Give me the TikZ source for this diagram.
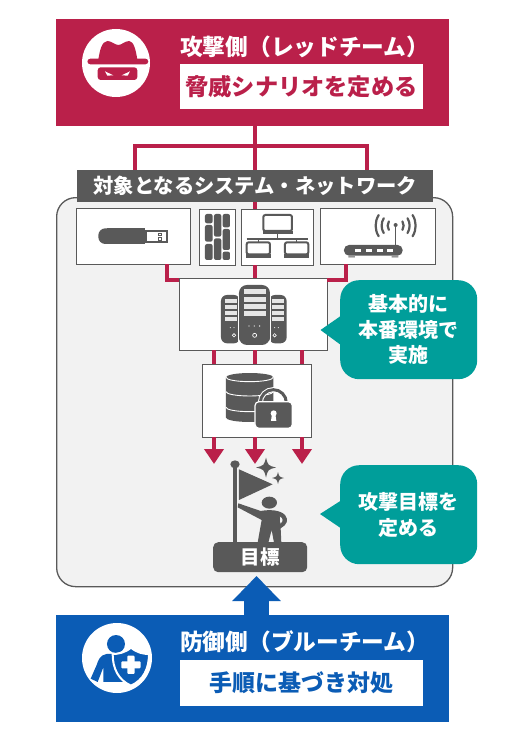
\documentclass[tikz,border=0pt]{standalone}
\usepackage{fontspec}
\setmainfont{Noto Sans CJK JP}
\usetikzlibrary{arrows.meta}
\definecolor{redc}{HTML}{BA204A}
\definecolor{bluec}{HTML}{0B5CB5}
\definecolor{grayc}{HTML}{595959}
\definecolor{tealc}{HTML}{009E9A}
\definecolor{panelc}{HTML}{F2F2F2}
\newcommand{\fs}[1]{\fontsize{#1}{#1}\selectfont\bfseries}
\newcommand{\sparklemark}[3]{\fill[grayc] (#1-#3,#2) .. controls (#1-#3*.2,#2-#3*.2) .. (#1,#2-#3) .. controls (#1+#3*.2,#2-#3*.2) .. (#1+#3,#2) .. controls (#1+#3*.2,#2+#3*.2) .. (#1,#2+#3) .. controls (#1-#3*.2,#2+#3*.2) .. cycle;}
\tikzset{
  box/.style={draw=grayc,line width=.8pt,fill=white,anchor=north west,inner sep=0pt,outer sep=0pt},
  teambox/.style={anchor=north west,inner sep=0pt,outer sep=0pt,minimum width=393pt,minimum height=107pt},
  whitebox/.style={fill=white,anchor=north west,inner sep=0pt,outer sep=0pt,minimum width=243pt,minimum height=45pt},
  conn/.style={draw=redc,line width=4pt},
  arrowconn/.style={draw=redc,line width=4pt,-{Triangle[width=19pt,length=15pt]}},
  callout/.style={fill=tealc,rounded corners=19pt,anchor=north west,inner sep=0pt,minimum width=137pt,minimum height=99pt,text=white,align=center,font=\fontsize{20}{25.5}\selectfont\bfseries},
}
\begin{document}
\begin{tikzpicture}[x=1pt,y=-1pt]
\useasboundingbox (0,0) rectangle (512,730);
\fill[white] (0,0) rectangle (512,730);

% panel
\node[anchor=north west,draw=grayc,line width=1.3pt,fill=panelc,rounded corners=19pt,minimum width=396pt,minimum height=389pt,inner sep=0pt] (panel) at (56,197) {};

\node[teambox,fill=redc] (red) at (56,19) {};
\node[teambox,fill=bluec] (blue) at (56,615) {};
\node[anchor=north west,fill=grayc,minimum width=356pt,minimum height=32pt,inner sep=0pt,text=white] (sys) at (77,170) {\fs{20.3}対象となるシステム・ネットワーク};

\node[box,minimum width=114.5pt,minimum height=56pt] (usb) at (76,208) {};
\node[box,minimum width=36pt,minimum height=56pt] (pan) at (199,209) {};
\node[box,minimum width=72pt,minimum height=56pt] (net) at (241,209) {};
\node[box,minimum width=115pt,minimum height=56pt] (rou) at (320,208) {};
\node[box,minimum width=148pt,minimum height=72pt] (srv) at (179,278) {};
\node[box,minimum width=109pt,minimum height=73pt] (db) at (202,364) {};

% connectors
\coordinate (bar) at (255,146);
\draw[conn] (red.south -| bar) -- (sys.north -| bar);
\draw[conn,line join=miter] (135,170) |- (bar) -| (367,170);
\draw[conn] (sys.south -| bar) -- (net.north -| bar);
\draw[conn] (usb.south -| 167,0) |- (srv.west |- 0,280);
\draw[conn] (rou.south -| 346,0) |- (srv.east |- 0,280);
\draw[conn] (net.south -| bar) -- (srv.north -| bar);
\draw[conn] (srv.south -| 214,0) -- (db.north -| 214,0);
\draw[conn] (srv.south -| 255,0) -- (db.north -| 255,0);
\draw[conn] (srv.south -| 302,0) -- (db.north -| 302,0);
\coordinate (t1) at (214,464);
\coordinate (t2) at (255,464);
\coordinate (t3) at (302,464);
\draw[arrowconn] (db.south -| t1) -- (t1);
\draw[arrowconn] (db.south -| t2) -- (t2);
\draw[arrowconn] (db.south -| t3) -- (t3);
\coordinate (bt) at (256.5,576);
\draw[draw=bluec,line width=25pt,-{Triangle[width=47pt,length=25pt]}] (blue.north -| bt) -- (bt);

% team labels
\node[text=white,anchor=west,inner sep=0pt] (redt) at (180,47) {\fs{22.7}攻撃側（レッドチーム）};
\node[whitebox] (redw) at (180,64) {};
\node[text=redc] (redwt) at (redw.center) {\fs{23.2}脅威シナリオを定める};
\node[text=white,anchor=west,inner sep=0pt] (bluet) at (180,642) {\fs{22.7}防御側（ブルーチーム）};
\node[whitebox,minimum height=46pt] (bluew) at (180,660) {};
\node[text=bluec] (bluewt) at (bluew.center) {\fs{23}手順に基づき対処};

% callouts
\fill[tealc] (320.5,330) -- (345,313) -- (345,348) -- cycle;
\node[callout] (c1) at (340,280) {基本的に\\本番環境で\\実施};
\fill[tealc] (320,514) -- (345,498) -- (345,531) -- cycle;
\node[callout] (c2) at (340,465) {攻撃目標を\\定める};

% target pill
\node[anchor=north west,fill=grayc,rounded corners=5pt,minimum width=94pt,minimum height=30pt,inner sep=0pt,text=white] (goal) at (213,542) {\fs{19.5}目標};

% hat icon
\node[circle,fill=white,minimum size=68pt,inner sep=0pt] (hat) at (116,63) {};
\begin{scope}[shift={(50,10)},x=.3333pt,y=-.3333pt]
\fill[redc,rounded corners=3pt] (112,146) rectangle (295,163);
\fill[redc] (145,148) .. controls (150,120) and (155,95) .. (172,93) .. controls (185,93) and (195,105) .. (205,105) .. controls (215,105) and (225,93) .. (238,93) .. controls (252,95) and (257,120) .. (262,148) -- cycle;
\fill[redc,rounded corners=3pt] (143,172) rectangle (262,210);
\fill[white] (165,184) -- (190,196) -- (172,197) -- cycle;
\fill[white] (240,184) -- (215,196) -- (233,197) -- cycle;
\end{scope}

% defender icon
\node[circle,fill=white,minimum size=70pt,inner sep=0pt] (def) at (117,658) {};
\begin{scope}[shift={(50,570)},x=.3333pt,y=-.3333pt]
\fill[bluec] (198,222) circle (27);
\fill[bluec] (170,252) .. controls (150,255) and (145,270) .. (140,285) -- (122,326) -- (143,336) -- (160,292) -- (160,336) -- (228,336) -- (200,300) -- (190,252) -- cycle;
\draw[white,line width=2pt,fill=bluec] (243,233) .. controls (225,248) and (205,252) .. (188,252) .. controls (188,295) and (205,330) .. (243,347) .. controls (281,330) and (297,295) .. (297,252) .. controls (280,252) and (261,248) .. (243,233) -- cycle;
\fill[white,rounded corners=1pt] (232,257) rectangle (254,312);
\fill[white,rounded corners=1pt] (214,274) rectangle (272,295);
\end{scope}

% icons in the upper row
\begin{scope}[shift={(60,195)},x=.3333pt,y=-.3333pt]
% usb
\fill[grayc,rounded corners=7pt] (115,100) rectangle (200,147);
\fill[grayc] (140,100) rectangle (255,147);
\draw[grayc,line width=1.4pt,fill=white] (258,108) rectangle (321,141);
\fill[grayc] (258,108) rectangle (262,141);
\draw[grayc,line width=.7pt] (295,115) rectangle (305,122) (295,127) rectangle (305,135);
% panel
\foreach \xa/\xb/\ya/\yb in {435/458/57/85,435/458/90/140,435/458/147/195,462/484/57/125,462/484/130/195,488/510/57/97,488/510/102/165,488/510/170/195}
  \fill[grayc,rounded corners=2pt] (\xa,\ya) rectangle (\xb,\yb);
% computers
\foreach \xa/\ya/\w/\h in {610/60/86/48,560/142/70/36,675/142/70/36}{
  \draw[grayc,line width=2pt,fill=white,rounded corners=2pt] (\xa,\ya) rectangle +(\w,\h);
  \fill[grayc] (\xa-2,\ya+\h) rectangle +(\w+4,10);
}
\draw[grayc,line width=1.5pt] (652,118) -- (652,132) (560,132) -- (745,132) (595,132) -- (595,142) (710,132) -- (710,142);
% router
\fill[grayc,rounded corners=5pt] (852,150) rectangle (1028,182);
\foreach \x in {885,918,950,980} \fill[white] (\x,163) rectangle +(19,7);
\fill[grayc] (865,184) rectangle (885,187) (995,184) rectangle (1015,187);
\draw[grayc,line width=1.4pt] (1007,150) -- (1007,92);
\fill[grayc] (1007,90) circle (6);
\foreach \r in {24,42,60}{
  \draw[grayc,line width=2.2pt,line cap=round] (1007,92) ++(148:\r) arc (148:212:\r);
  \draw[grayc,line width=2.2pt,line cap=round] (1007,92) ++(32:\r) arc (32:-32:\r);
}
% server
\fill[grayc,rounded corners=6pt] (483,300) rectangle (540,445);
\fill[grayc,rounded corners=6pt] (627,300) rectangle (680,445);
\fill[grayc,rounded corners=8pt] (537,270) rectangle (630,450);
\draw[panelc!30!white,line width=.5pt] (536,300) -- (536,445) (631,300) -- (631,445);
\foreach \y in {283,305,327,349}{
  \fill[white!85!grayc] (551,\y) rectangle (617,\y+15);
}
\foreach \y in {312,330,348,366}{
  \fill[white!85!grayc] (495,\y) rectangle (531,\y+13);
  \fill[white!85!grayc] (637,\y) rectangle (673,\y+13);
}
\foreach \x in {567,583,599} \fill[white] (\x,393) circle (2);
\draw[white,line width=.7pt] (584,421) circle (6);
\foreach \x in {511,522,644,655} \fill[white] (\x,398) circle (1.6);
\draw[white,line width=.6pt] (522,421) circle (5) (644,421) circle (5);
\end{scope}

% database and flag
\begin{scope}[shift={(170,350)},x=.3333pt,y=-.3333pt]
\fill[grayc] (168,82) arc (180:360:71 and 13) -- (310,203) arc (0:180:71 and 13) -- cycle;
\draw[white,line width=.9pt] (168,82) arc (180:0:71 and 13) (168,125) arc (180:0:71 and 13) (168,172) arc (180:0:71 and 13);
\draw[white,line width=5pt] (271,158) arc (180:360:39);
\draw[grayc,line width=3pt] (271,158) arc (180:360:39);
\draw[white,line width=1.2pt,fill=grayc,rounded corners=4pt] (255,155) rectangle (367,235);
\fill[white] (311,190) circle (9);
\fill[white] (306,192) -- (316,192) -- (319,213) -- (303,213) -- cycle;
% flag
\fill[grayc] (190,345) rectangle (200,578);
\fill[grayc] (195,343) ellipse (14 and 12);
\fill[grayc] (207,358) -- (308,403) -- (207,450) -- cycle;
\fill[grayc] (298,458) ellipse (23 and 18);
\fill[grayc] (205,460) -- (272,483) .. controls (300,478) and (330,480) .. (345,495) .. controls (358,510) and (350,525) .. (332,535) -- (334,578) -- (312,578) -- (305,540) -- (295,578) -- (263,578) -- (275,510) -- (203,472) -- cycle;
\fill[panelc] (330,500) .. controls (340,505) and (340,515) .. (331,521) -- cycle;
\end{scope}
\sparklemark{266}{467.5}{10}
\sparklemark{278}{478}{6}
\end{tikzpicture}
\end{document}
